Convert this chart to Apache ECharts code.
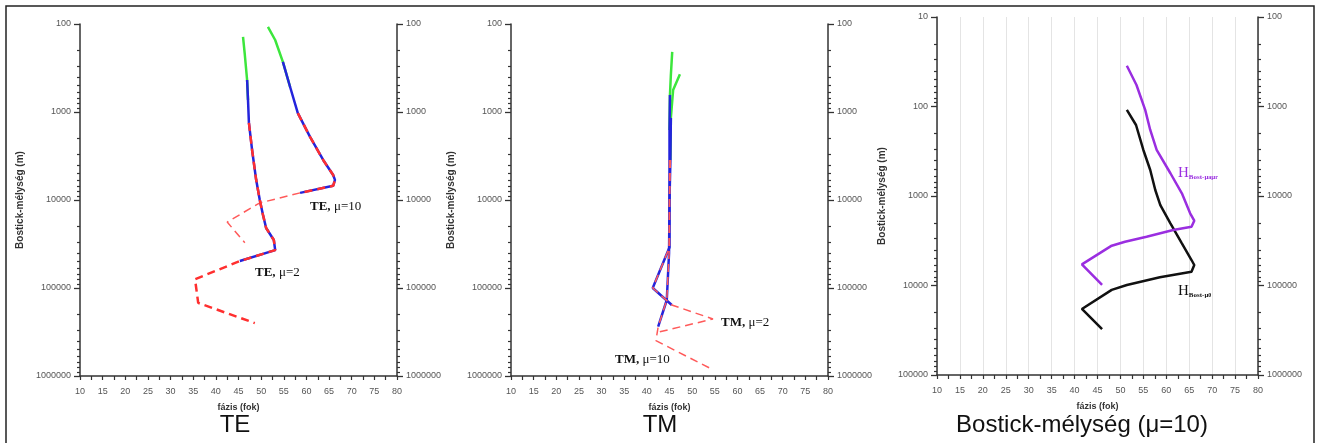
<!DOCTYPE html>
<html><head><meta charset="utf-8">
<script src="https://cdn.jsdelivr.net/npm/echarts@6/dist/echarts.min.js"></script>
<style>html,body{margin:0;padding:0;background:#fff}#c{width:1317px;height:443px}</style>
</head><body><div id="c"></div>
<script>
// ---- tick labels ----
const phaseMin = 10, phaseMax = 80, phaseStep = 5;
const depthLabelsA = [100, 1000, 10000, 100000, 1000000];   // TE / TM panels, both sides; Bostick right side
const depthLabelsB = [10, 100, 1000, 10000, 100000];        // Bostick left side
const panelTitles = ['TE', 'TM', 'Bostick-mélység (μ=10)'];
const xName = 'fázis (fok)';
const yName = 'Bostick-mélység (m)';

// ---- data: [phase (deg), Bostick depth (m)] ----
// TE, mu=10
const teMu10Green = [[51.5,108],[53.1,152],[54.8,270],[56.4,520]];
const teMu10Blue  = [[54.8,270],[56.4,520],[58.1,1030],[60.8,1920],[63.7,3510],[65.9,5200],[66.3,5900],[65.9,6900],[58.6,8300]];
const teMu10Red   = [[58.1,1030],[60.8,1920],[63.7,3510],[65.9,5200],[66.3,5900],[65.9,6900],[58.6,8300]];
const teMu10Tail  = [[58.6,8300],[49.7,10800],[42.5,17800],[46.4,30600]];
// TE, mu=2
const teMu2Green = [[46.0,140],[46.4,225],[46.9,433],[47.1,730]];
const teMu2Blue  = [[46.9,433],[47.1,730],[47.3,1330],[48.0,2700],[48.9,5900],[49.7,10000],[50.4,14700],[51.1,20800],[52.8,28500],[53.1,37100],[45.3,49400]];
const teMu2Red   = [[47.3,1330],[48.0,2700],[48.9,5900],[49.7,10000],[50.4,14700],[51.1,20800],[52.8,28500],[53.1,37100],[45.3,49400],[35.4,79400],[35.2,82000],[36.1,147700],[48.6,250400]];
// TM, mu=2
const tmMu2Green = [[45.6,207],[45.3,380],[45.1,641],[45.0,1600]];
const tmMu2Blue  = [[45.1,641],[45.0,1600],[45.0,10000],[45.0,34400],[41.3,100000],[45.5,156000]];
const tmMu2Red   = [[45.0,3510],[45.0,10000],[45.0,34400],[41.3,100000],[45.5,156000],[54.6,225000],[41.8,324000]];
// TM, mu=10
const tmMu10Green = [[47.3,373],[45.8,562],[45.3,1170],[45.2,3510]];
const tmMu10Blue  = [[45.3,1170],[45.2,3510],[45.0,10000],[44.9,40100],[44.4,136900],[42.5,275000]];
const tmMu10Red   = [[45.2,3510],[45.0,10000],[44.9,40100],[44.4,136900],[42.5,275000],[42.0,397000],[53.9,814000]];
// Bostick depth, mu=10
const hBostMu0   = [[51.4,109],[53.4,161],[55.0,306],[56.5,512],[57.6,857],[58.7,1262],[60.9,2018],[63.4,3375],[65.5,5190],[66.1,5900],[65.5,7010],[58.6,8100],[51.4,9860],[48.1,11200],[41.6,18300],[46.0,30800]];
const hBostMuAR  = [[51.4,35],[53.5,57.5],[55.4,109],[56.5,183],[57.9,306],[60.9,557],[63.4,933],[65.2,1560],[66.1,1888],[65.5,2203],[61.5,2400],[55.7,2850],[51.0,3240],[48.1,3590],[41.6,5800],[46.0,9860]];

// ---- helpers ----
function minorLog(labels){
  const v = [];
  for (let i = 0; i < labels.length - 1; i++) for (let k = 2; k <= 9; k++) v.push(labels[i] * k);
  return v;
}
const AX = '#333', LAB = '#555';
const FONT = 'Liberation Sans, Arial, sans-serif';
function yAxes(gi, pos, labels, withName, nameGap){
  const major = {
    type:'log', logBase:10, gridIndex:gi, position:pos, inverse:true,
    min:labels[0], max:labels[labels.length-1],
    axisLine:{show:true, lineStyle:{color:AX, width:1.5}},
    axisTick:{show:true, customValues:labels, length:6, lineStyle:{color:AX, width:1.3}},
    axisLabel:{show:true, customValues:labels, fontSize:9, color:LAB, margin:9, fontFamily:FONT,
      formatter:v => String(Math.round(v))},
    splitLine:{show:false}
  };
  if (withName){
    Object.assign(major, {name:yName, nameLocation:'middle', nameGap:nameGap,
      nameTextStyle:{fontSize:10, fontWeight:'bold', color:AX, fontFamily:FONT}});
  }
  const minor = {
    type:'log', logBase:10, gridIndex:gi, position:pos, inverse:true,
    min:labels[0], max:labels[labels.length-1],
    axisLine:{show:false},
    axisTick:{show:true, customValues:minorLog(labels), length:3, lineStyle:{color:AX, width:1.2}},
    axisLabel:{show:false}, splitLine:{show:false}
  };
  return [major, minor];
}
function xAxis(gi, grid){
  return {
    type:'value', gridIndex:gi, min:phaseMin, max:phaseMax, interval:phaseStep, position:'bottom',
    axisLine:{show:true, onZero:false, lineStyle:{color:AX, width:1.5}},
    axisTick:{show:true, length:4, lineStyle:{color:AX, width:1.2}},
    minorTick:{show:true, splitNumber:2, length:4, lineStyle:{color:AX, width:1.2}},
    axisLabel:{fontSize:9, color:LAB, margin:11, fontFamily:FONT},
    splitLine:{show:grid, lineStyle:{color:'#e4e4e4', width:1}},
    name:xName, nameLocation:'middle', nameGap:27,
    nameTextStyle:{fontSize:9, fontWeight:'bold', color:AX, fontFamily:FONT}
  };
}
function line(gi, yi, data, color, width, dashed){
  return {type:'line', xAxisIndex:gi, yAxisIndex:yi, data:data, symbol:'none', showSymbol:false,
    silent:true, animation:false,
    lineStyle:{color:color, width:width, type: dashed ? [8,5] : 'solid', cap:'butt'}};
}
const GREEN = '#3ce63c', BLUE = '#2424dc', RED = '#ff2f2f', PINK = '#ff5a5a';

const yAxisList = [].concat(
  yAxes(0,'left',depthLabelsA,true,55), yAxes(0,'right',depthLabelsA,false),
  yAxes(1,'left',depthLabelsA,true,55), yAxes(1,'right',depthLabelsA,false),
  yAxes(2,'left',depthLabelsB,true,50), yAxes(2,'right',depthLabelsA,false)
);
// indices: grid0 left=0, grid1 left=4, grid2 left=8

const serif = 'Liberation Serif, Times New Roman, serif';
function annot(x, y, bold, normal){
  return {type:'text', x:x, y:y, z:100,
    style:{text:'{b|' + bold + '} {n|' + normal + '}', textVerticalAlign:'middle',
      rich:{b:{fontFamily:serif, fontSize:13, fontWeight:'bold', fill:'#111'},
            n:{fontFamily:serif, fontSize:13, fill:'#111'}}}};
}
function title(x, text){
  return {type:'text', x:x, y:425, z:100,
    style:{text:text, fontFamily:FONT, fontSize:24, fill:'#111', textAlign:'center', textVerticalAlign:'middle'}};
}

const option = {
  animation:false,
  backgroundColor:'#fff',
  grid:[
    {left:80, top:24, width:317, height:352},
    {left:511, top:24, width:317, height:352},
    {left:937, top:17, width:321, height:358}
  ],
  xAxis:[xAxis(0,false), xAxis(1,false), xAxis(2,true)],
  yAxis:yAxisList,
  series:[
    line(0,0,teMu10Green,GREEN,2.5,false),
    line(0,0,teMu2Green,GREEN,2.5,false),
    line(0,0,teMu10Blue,BLUE,2.5,false),
    line(0,0,teMu2Blue,BLUE,2.5,false),
    line(0,0,teMu10Red,RED,2.5,true),
    line(0,0,teMu10Tail,PINK,1.5,true),
    line(0,0,teMu2Red,RED,2.5,true),

    line(1,4,tmMu2Green,GREEN,2.5,false),
    line(1,4,tmMu10Green,GREEN,2.5,false),
    line(1,4,tmMu2Blue,BLUE,2.5,false),
    line(1,4,tmMu10Blue,BLUE,2.5,false),
    line(1,4,tmMu2Red,PINK,1.5,true),
    line(1,4,tmMu10Red,PINK,1.5,true),

    line(2,8,hBostMu0,'#111',2.5,false),
    line(2,8,hBostMuAR,'#9a2ee0',2.5,false)
  ],
  graphic:[
    {type:'rect', shape:{x:6, y:6, width:1308, height:460}, style:{fill:'none', stroke:'#222', lineWidth:1.5}, z:100},
    title(235, panelTitles[0]),
    title(660, panelTitles[1]),
    title(1082, panelTitles[2]),
    annot(310, 207, 'TE,', 'μ=10'),
    annot(255, 273, 'TE,', 'μ=2'),
    annot(721, 323, 'TM,', 'μ=2'),
    annot(615, 360, 'TM,', 'μ=10'),
    {type:'text', x:1178, y:173, z:100,
      style:{text:'{h|H}{s|Bost-μ}{t|a}{s|μ}{t|r}', textVerticalAlign:'middle',
        rich:{h:{fontFamily:serif, fontSize:15, fill:'#9a2ee0'},
              s:{fontFamily:serif, fontSize:7, fontWeight:'bold', fill:'#9a2ee0', verticalAlign:'bottom', lineHeight:12},
              t:{fontFamily:serif, fontSize:6, fontWeight:'bold', fill:'#9a2ee0', verticalAlign:'bottom', lineHeight:8}}}},
    {type:'text', x:1178, y:291, z:100,
      style:{text:'{h|H}{s|Bost-μ}{t|0}', textVerticalAlign:'middle',
        rich:{h:{fontFamily:serif, fontSize:15, fill:'#111'},
              s:{fontFamily:serif, fontSize:7, fontWeight:'bold', fill:'#111', verticalAlign:'bottom', lineHeight:12},
              t:{fontFamily:serif, fontSize:6, fontWeight:'bold', fill:'#111', verticalAlign:'bottom', lineHeight:8}}}}
  ]
};
const chart = echarts.init(document.getElementById('c'), null, {renderer:'canvas'});
chart.setOption(option);
</script>
</body></html>
